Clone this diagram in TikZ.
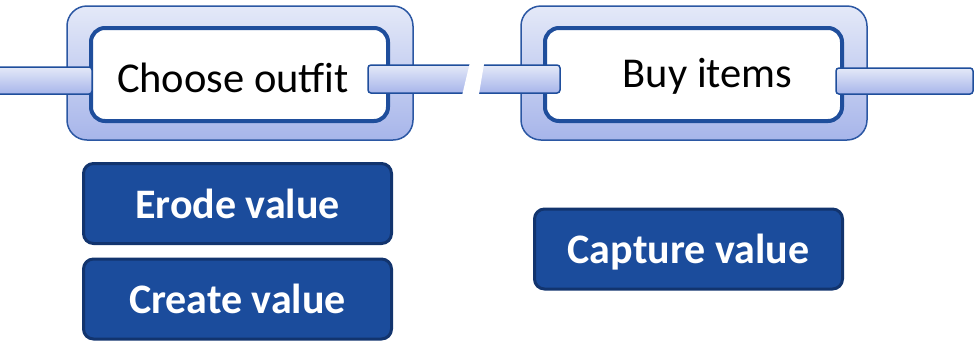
\documentclass[tikz,border=0pt]{standalone}
\usepackage{fontspec}
\setmainfont{Carlito}
\usepackage{tikz}
\definecolor{frametop}{HTML}{E4E9F8}
\definecolor{framebot}{HTML}{A7B5EA}
\definecolor{framedge}{HTML}{2B57A3}
\definecolor{boxedge}{HTML}{1F4E9C}
\definecolor{valfill}{HTML}{1B4C9C}
\definecolor{valedge}{HTML}{12346E}
\tikzset{% 
  stage/.style = {shape=rectangle, rounded corners=20pt,
    draw=framedge, line width=1.5pt, inner sep=0pt,
    top color=frametop, bottom color=framebot,
    minimum width=346pt, minimum height=134pt},
  stagebox/.style = {shape=rectangle, rounded corners=14pt,
    draw=boxedge, line width=4pt, fill=white, inner sep=0pt,
    minimum width=297pt, minimum height=93pt},
  stagetext/.style = {anchor=base, inner sep=0pt,
    font=\fontsize{42.5}{50}\selectfont},
  link/.style = {draw=boxedge, line width=1.5pt, rounded corners=3pt,
    top color=frametop, bottom color=framebot},
  value/.style = {shape=rectangle, rounded corners=10pt,
    draw=valedge, line width=3pt, fill=valfill, text=white,
    inner sep=0pt, text depth=0pt,
    font=\bfseries\fontsize{42}{50}\selectfont,
    minimum width=308pt, minimum height=80pt}
}
\begin{document}
\begin{tikzpicture}[x=1pt, y=1pt]
	    \useasboundingbox (0,0) rectangle (975,-341);
	    % the two stages
	    \node[stage] (outfit) at (240,-73) {};
	    \node[stage] (buy) at (694,-73) {};
	    \node[stagebox] (outfitbox) at (239.5,-74.5) {};
	    \node[stagebox] (buybox) at (693.5,-74.5) {};
	    % bars between the stages
	    \draw[link] (-5,-67) rectangle (92,-94);
	    \draw[link] (368,-65) rectangle (560,-93);
	    \draw[link] (836,-68) rectangle (973,-94);
	    \fill[white] (471,-58) -- (485,-58) -- (478,-100) -- (461,-100) -- cycle;
	    \node[stagetext] (outfittext) at (233,-92) {Choose outfit};
	    \node[stagetext] (buytext) at (707.5,-87) {Buy items};
	    % values
	    \node[value] (erode) at (237.5,-203.5) {Erode value};
	    \node[value] (create) at (237.5,-299) {Create value};
	    \node[value] (capture) at (688.5,-249) {Capture value};
	  \end{tikzpicture}
\end{document}
